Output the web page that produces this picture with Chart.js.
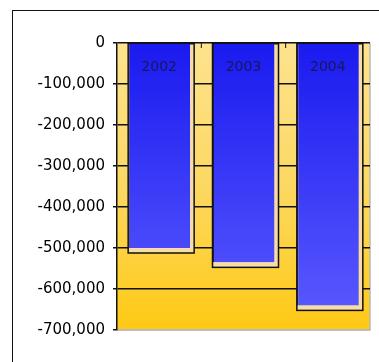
<!DOCTYPE html>
<html>
<head>
<meta charset="utf-8">
<script src="https://cdn.jsdelivr.net/npm/chart.js@4"></script>
<style>
  html, body { margin: 0; padding: 0; background: #fff; }
  #wrap { position: relative; width: 379px; height: 362px; overflow: hidden; }
  #frame { position: absolute; left: 12px; top: 10px; width: 420px; height: 420px; border: 1.5px solid #111; }
  #chart { position: absolute; left: 0; top: 0; }
</style>
</head>
<body>
<div id="wrap">
  <div id="frame"></div>
  <canvas id="chart" width="379" height="362"></canvas>
</div>
<script>
// Chart data
const years = ['2002', '2003', '2004'];
const values = [-500000, -535000, -640000];
const yMin = -700000;
const yMax = 0;
const yStep = 100000;

// yellow plot background + gray right/bottom edge
const plotBg = {
  id: 'plotBg',
  beforeDraw(chart) {
    const { ctx, chartArea: a } = chart;
    const g = ctx.createLinearGradient(0, a.top, 0, a.bottom);
    g.addColorStop(0, '#fde38e');
    g.addColorStop(0.5, '#fcd862');
    g.addColorStop(1, '#ffc914');
    ctx.save();
    ctx.fillStyle = g;
    ctx.fillRect(a.left, a.top, a.right - a.left, a.bottom - a.top);
    ctx.strokeStyle = '#b8b8b8';
    ctx.lineWidth = 1.5;
    ctx.beginPath();
    ctx.moveTo(a.right, a.top);
    ctx.lineTo(a.right, a.bottom);
    ctx.lineTo(a.left, a.bottom);
    ctx.stroke();
    ctx.restore();
  }
};

// black outline box behind each bar, offset down/right
const barBox = {
  id: 'barBox',
  beforeDatasetsDraw(chart) {
    const { ctx } = chart;
    const meta = chart.getDatasetMeta(0);
    ctx.save();
    meta.data.forEach(el => {
      const p = el.getProps(['x', 'y', 'base', 'width'], true);
      const left = p.x - p.width / 2;
      const right = p.x + p.width / 2 + 4;
      const bottom = p.y + 5;
      ctx.fillStyle = '#f6dca6';
      ctx.fillRect(left, p.base, right - left, bottom - p.base);
      ctx.strokeStyle = '#111';
      ctx.lineWidth = 1.5;
      ctx.strokeRect(left, p.base, right - left, bottom - p.base);
    });
    ctx.restore();
  }
};

// category labels inside the bars, small ticks on the zero line
const catLabels = {
  id: 'catLabels',
  afterDatasetsDraw(chart) {
    const { ctx, scales: { x, y } } = chart;
    const y0 = y.getPixelForValue(0);
    ctx.save();
    ctx.font = '14px "DejaVu Sans"';
    ctx.fillStyle = '#18185a';
    ctx.textAlign = 'center';
    ctx.textBaseline = 'middle';
    years.forEach((yr, i) => {
      ctx.fillText(yr, x.getPixelForValue(i), y0 + 24);
    });
    ctx.strokeStyle = '#111';
    ctx.lineWidth = 1;
    for (let i = 0; i < years.length - 1; i++) {
      const bx = (x.getPixelForValue(i) + x.getPixelForValue(i + 1)) / 2;
      ctx.beginPath();
      ctx.moveTo(bx, y0);
      ctx.lineTo(bx, y0 + 5);
      ctx.stroke();
    }
    ctx.restore();
  }
};

function barGradient(c) {
  const a = c.chart.chartArea;
  if (!a) return '#3333ff';
  const g = c.chart.ctx.createLinearGradient(0, a.top, 0, a.bottom);
  g.addColorStop(0, '#1a1af0');
  g.addColorStop(1, '#5c5cff');
  return g;
}

new Chart(document.getElementById('chart'), {
  type: 'bar',
  data: {
    labels: years,
    datasets: [{
      data: values,
      backgroundColor: barGradient,
      borderColor: '#1a1a40',
      borderWidth: { left: 1.5, top: 0, right: 0, bottom: 0 },
      borderSkipped: false,
      barPercentage: 0.735,
      categoryPercentage: 1,
    }],
  },
  options: {
    responsive: false,
    animation: false,
    layout: { padding: { top: 43, right: 9, bottom: 32, left: 0 } },
    plugins: { legend: { display: false }, tooltip: { enabled: false } },
    scales: {
      x: { display: false },
      y: {
        min: yMin,
        max: yMax,
        afterFit: (s) => { s.width = 117; },
        ticks: {
          stepSize: yStep,
          color: '#000',
          padding: 8,
          font: { family: 'DejaVu Sans', size: 15 },
          callback: (v) => v.toLocaleString('en-US'),
        },
        grid: {
          color: (c) => (c.tick && c.tick.value === yMin ? '#b8b8b8' : '#111'),
          lineWidth: 1.5,
          tickLength: 4,
          tickColor: '#111',
        },
        border: { color: '#111', width: 1.5 },
      },
    },
  },
  plugins: [plotBg, barBox, catLabels],
});
</script>
</body>
</html>
